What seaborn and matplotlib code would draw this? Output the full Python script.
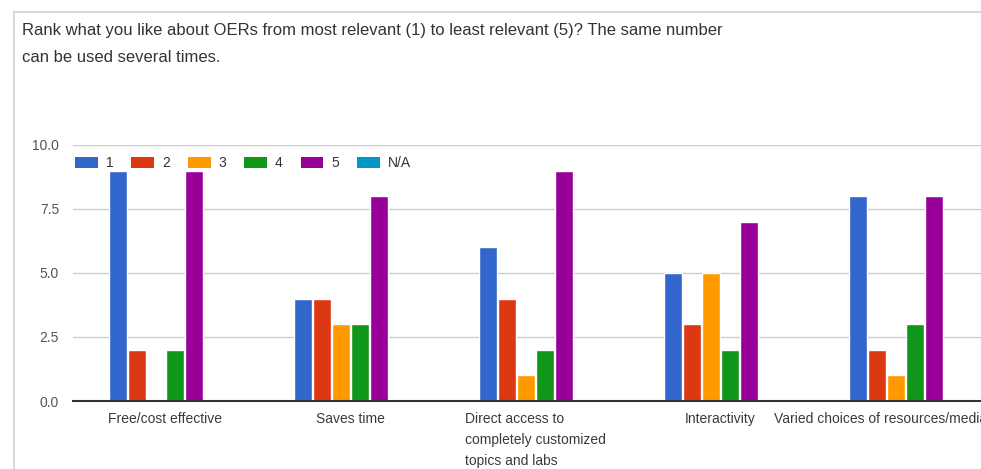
import matplotlib
matplotlib.use("Agg")
import matplotlib.pyplot as plt
import matplotlib.patches as mpatches
import seaborn as sns
import pandas as pd

# ---- data ----
features = [
    "Free/cost effective",
    "Saves time",
    "Direct access to\ncompletely customized\ntopics and labs",
    "Interactivity",
    "Varied choices of resources/media formats",
]
ranks = ["1", "2", "3", "4", "5", "N/A"]
rank_1 = [9, 4, 6, 5, 8]
rank_2 = [2, 4, 4, 3, 2]
rank_3 = [0, 3, 1, 5, 1]
rank_4 = [2, 3, 2, 2, 3]
rank_5 = [9, 8, 9, 7, 8]
rank_na = [0, 0, 0, 0, 0]
colors = ["#3366cc", "#dc3912", "#ff9900", "#109618", "#990099", "#0099c6"]
y_ticks = [0.0, 2.5, 5.0, 7.5, 10.0]
question_line1 = "Rank what you like about OERs from most relevant (1) to least relevant (5)? The same number"
question_line2 = "can be used several times."

series = [rank_1, rank_2, rank_3, rank_4, rank_5, rank_na]
rows = []
for r, vals in zip(ranks, series):
    for f, v in zip(features, vals):
        rows.append({"feature": f, "rank": r, "count": v})
df = pd.DataFrame(rows)

sns.set_theme(style="white")
plt.rcParams["font.family"] = ["Liberation Sans", "DejaVu Sans"]

fig = plt.figure(figsize=(9.81, 4.69), dpi=100)
W, H = 981, 469

# card border (left and top edges only, as thin filled strips)
border_col = "#d9d9d9"
fig.patches.append(mpatches.Rectangle((13.2 / W, 0), 1.6 / W, 1 - 11.2 / H,
                                      transform=fig.transFigure, facecolor=border_col,
                                      edgecolor="none", linewidth=0, zorder=-5))
fig.patches.append(mpatches.Rectangle((13.2 / W, 1 - 12.8 / H), 1 - 13.2 / W, 1.6 / H,
                                      transform=fig.transFigure, facecolor=border_col,
                                      edgecolor="none", linewidth=0, zorder=-5))

fig.text(22 / W, 1 - 30 / H, question_line1, fontsize=12, color="#333333",
         va="center", ha="left")
fig.text(22 / W, 1 - 57 / H, question_line2, fontsize=12, color="#333333",
         va="center", ha="left")

left, right = 73, 998
bottom, top = 401, 145
ax = fig.add_axes([left / W, 1 - bottom / H, (right - left) / W, (bottom - top) / H])
ax.set_facecolor("none")

sns.barplot(data=df, x="feature", y="count", hue="rank", hue_order=ranks,
            order=features, palette=colors, width=0.616, gap=0.03,
            saturation=1, ax=ax, legend=False, zorder=3)

ax.set_ylim(0, 10)
ax.set_xlim(-0.5, len(features) - 0.5)
ax.set_yticks(y_ticks)
ax.set_yticklabels([f"{t:.1f}" for t in y_ticks], fontsize=10, color="#555555")
ax.yaxis.grid(True, color="#cccccc", linewidth=1)
ax.set_axisbelow(True)
for s in ["top", "right", "left"]:
    ax.spines[s].set_visible(False)
ax.spines["bottom"].set_color("#333333")
ax.spines["bottom"].set_linewidth(1.5)
ax.spines["bottom"].set_zorder(4)
ax.tick_params(axis="y", length=0, pad=10)
ax.tick_params(axis="x", length=0, pad=8)
ax.set_xlabel("")
ax.set_ylabel("")
for lab in ax.get_xticklabels():
    lab.set_fontsize(10)
    lab.set_color("#3a3a3a")
    lab.set_multialignment("left")
    lab.set_va("top")
    lab.set_linespacing(1.65)

handles = [mpatches.Patch(facecolor=c, edgecolor="none") for c in colors]
leg = ax.legend(handles, ranks, ncol=6, loc="upper left", bbox_to_anchor=(0.0, 0.964),
                frameon=False, fontsize=10, handlelength=1.65, handleheight=0.9,
                columnspacing=1.3, handletextpad=0.55, borderaxespad=0.0, borderpad=0.15)
for t in leg.get_texts():
    t.set_color("#333333")

fig.savefig("out.png", dpi=100)
